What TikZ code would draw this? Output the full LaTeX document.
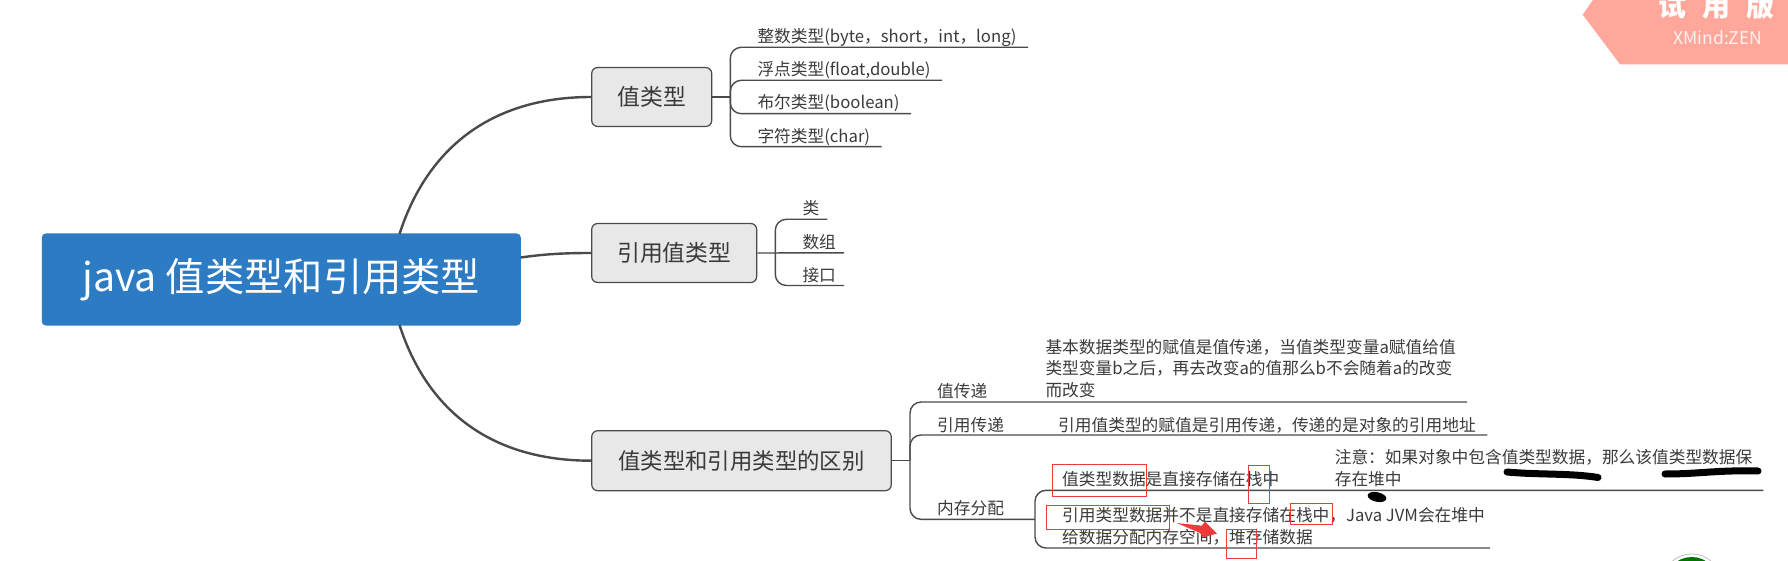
\documentclass[tikz,border=0pt]{standalone}
\usepackage{fontspec}
\setmainfont{Noto Sans CJK SC}
\usetikzlibrary{calc}
\definecolor{ink}{HTML}{4A4A4A}
\definecolor{txt}{HTML}{3A3A3A}
\definecolor{rootblue}{HTML}{2C7BC3}
\definecolor{boxgrey}{HTML}{E8E8E8}
\definecolor{badge}{HTML}{FFA79B}
\definecolor{redmark}{HTML}{F03A3A}
\tikzset{x=1pt,y=-1pt,
 rootbox/.style={fill=rootblue,rounded corners=4pt,inner sep=0pt,text=white,font=\fontsize{39.3}{42}\selectfont},
 midbox/.style={fill=boxgrey,draw=ink,line width=1.2pt,rounded corners=6pt,inner sep=0pt,text=txt,font=\fontsize{22.8}{24}\selectfont},
 leaf/.style={anchor=west,inner sep=0pt,text=txt,font=\fontsize{16.7}{21.7}\selectfont},
 para/.style={leaf,align=left},
 wire/.style={ink,line width=1.4pt,rounded corners=11pt},
 trunk/.style={ink,line width=2.4pt},
 redbox/.style={draw=redmark,line width=.8pt}}
\begin{document}
\begin{tikzpicture}
\useasboundingbox (0,0) rectangle (1788,561);
\clip (0,0) rectangle (1788,561);
% badge
\fill[badge] (1593,0) -- (1582.7,14.7) -- (1620,64.3) -- (1788,64.3) -- (1788,0) -- cycle;
\node[text=white,font=\fontsize{28}{30}\selectfont\bfseries,inner sep=0pt] (trial) at (1716.5,6) {试\hspace{16pt}用\hspace{16pt}版};
\node[text=white,opacity=.85,font=\fontsize{17.5}{19}\selectfont,inner sep=0pt] (zen) at (1718,37.5) {XMind:ZEN};
% boxes
\node[rootbox,minimum width=479,minimum height=92] (root) at (281.3,279.5) {java 值类型和引用类型};
\node[midbox,minimum width=120,minimum height=59] (a) at (651.7,97) {值类型};
\node[midbox,minimum width=165,minimum height=59] (b) at (674.2,253) {引用值类型};
\node[midbox,minimum width=299.5,minimum height=60,font=\fontsize{22.4}{24}\selectfont] (c) at (741.5,460.7) {值类型和引用类型的区别};
% trunks
\coordinate (rt) at (399.5,234);
\coordinate (rb) at (399.5,325);
\coordinate (rr) at (520.8,257.5);
\draw[trunk] (rt) .. controls (430,140) and (500,97) .. (a.west);
\draw[trunk] (rr) .. controls (545,254) and (565,253) .. (b.west);
\draw[trunk] (rb) .. controls (430,419) and (500,460.7) .. (c.west);
% leaves of a
\node[leaf] (a1) at (757.3,37.5) {整数类型(byte，short，int，long)};
\node[leaf] (a2) at (757.3,70.3) {浮点类型(float,double)};
\node[leaf] (a3) at (757.3,103) {布尔类型(boolean)};
\node[leaf] (a4) at (757.3,136.7) {字符类型(char)};
\coordinate (ax) at (730.3,97);
\coordinate (a1e) at (1028,47.3);
\coordinate (a2e) at (942,80.3);
\coordinate (a3e) at (911,113.7);
\coordinate (a4e) at (881.7,146.7);
\draw[wire] (a.east) -- (ax);
\draw[wire] (ax) |- (a1e);
\draw[wire] (ax) |- (a2e);
\draw[wire] (ax) |- (a3e);
\draw[wire] (ax) |- (a4e);
% leaves of b
\node[leaf] (b1) at (802.3,208) {类};
\node[leaf] (b2) at (802.3,241.7) {数组};
\node[leaf] (b3) at (802.3,274.7) {接口};
\coordinate (bx) at (775.3,252.8);
\coordinate (b1e) at (827.3,219.3);
\coordinate (b2e) at (844,252.8);
\coordinate (b3e) at (844,285.5);
\draw[wire] (b.east) -- (b2e);
\draw[wire] (bx) |- (b1e);
\draw[wire] (bx) |- (b3e);
% leaves of c
\node[leaf] (c1) at (937,391) {值传递};
\node[leaf] (c2) at (937,425) {引用传递};
\node[leaf] (c3) at (937,508) {内存分配};
\node[para] (p1) at (1045.3,368.6) {基本数据类型的赋值是值传递，当值类型变量a赋值给值\\类型变量b之后，再去改变a的值那么b不会随着a的改变\\而改变};
\node[leaf] (p2) at (1058,425) {引用值类型的赋值是引用传递，传递的是对象的引用地址};
\node[leaf] (m1) at (1062,479.5) {值类型数据是直接存储在栈中};
\node[para] (n1) at (1334.6,468.3) {注意：如果对象中包含值类型数据，那么该值类型数据保\\存在堆中};
\node[para] (m2) at (1062,526.3) {引用类型数据并不是直接存储在栈中，Java JVM会在堆中\\给数据分配内存空间，堆存储数据};
\coordinate (cx) at (910,460.7);
\coordinate (c1e) at (1467,402);
\coordinate (c2e) at (1487.3,435);
\coordinate (c3e) at (1035,519.3);
\coordinate (dt) at (1763.3,490.3);
\coordinate (db) at (1490,548);
\draw[wire] (c.east) -- (cx);
\draw[wire] (cx) |- (c1e);
\draw[wire] (cx) |- (c2e);
\draw[wire] (cx) |- (c3e);
\draw[wire] (c3e) |- (dt);
\draw[wire] (c3e) |- (db);
% red annotation boxes
\draw[redbox] (1052.7,464) rectangle (1146.7,496);
\draw[redbox] (1247.9,465.3) rectangle (1269.8,503);
\draw[redbox] (1046.3,505.7) rectangle (1169.3,529.3);
\draw[redbox] (1290.7,503.3) rectangle (1332.6,524.7);
\draw[redbox] (1226.4,529.3) rectangle (1256.5,558.3);
\fill[redmark] (1176.7,523) -- (1201.7,525.7) -- (1205,521.7) -- (1217,533.5) -- (1203,537.5) -- (1200,533) -- cycle;
% black scribbles
\draw[black,line width=7pt,line cap=round] (1507,472) .. controls (1540,475) and (1570,473) .. (1598,477.5);
\draw[black,line width=7pt,line cap=round] (1665,474) .. controls (1700,474) and (1715,470) .. (1758,471);
\fill[black,rotate around={-12:(1377,497)}] (1377,497) ellipse (9.5 and 4.8);
% green seal at the lower edge
\fill[white,draw=black!25,line width=.8pt] (1691.7,584) circle (30);
\fill[green!45!black] (1691.7,584) circle (27);
\end{tikzpicture}
\end{document}
